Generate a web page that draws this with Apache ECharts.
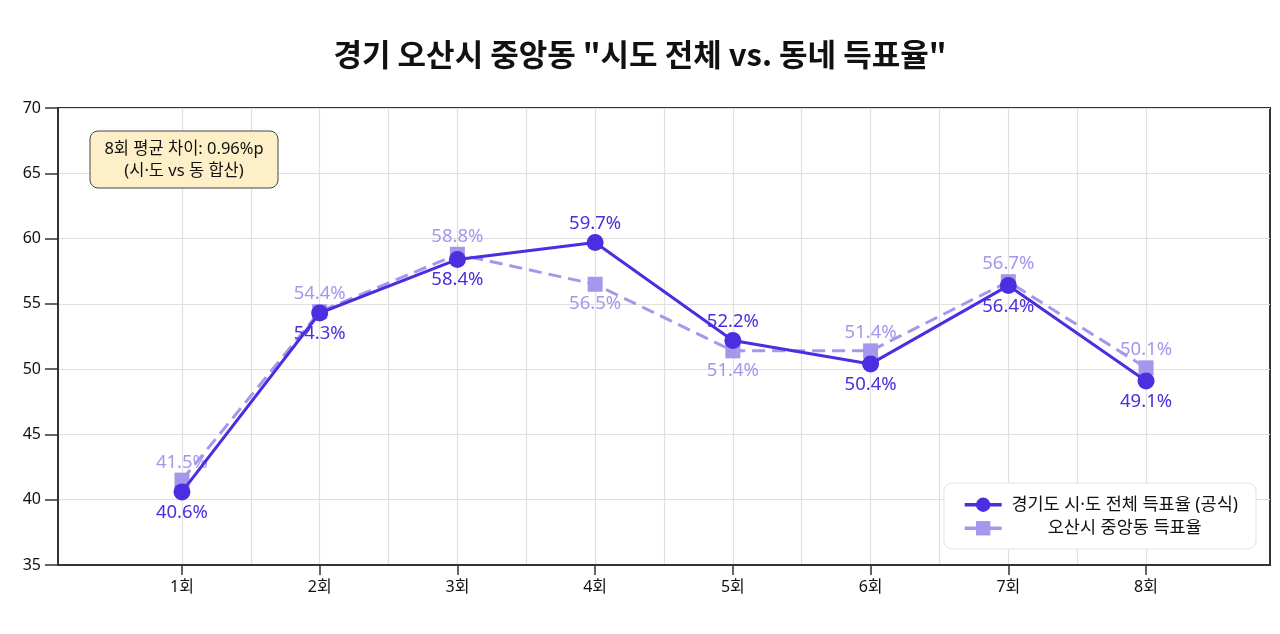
<!DOCTYPE html>
<html>
<head>
<meta charset="utf-8">
<script src="https://cdn.jsdelivr.net/npm/echarts@6/dist/echarts.min.js"></script>
<style>
html,body{margin:0;padding:0;background:#fff;}
#main{width:1280px;height:634px;}
</style>
</head>
<body>
<div id="main"></div>
<script>
// 회차, 두 계열 득표율
var rounds = [1, 2, 3, 4, 5, 6, 7, 8];
var roundLabels = ['1회', '2회', '3회', '4회', '5회', '6회', '7회', '8회'];
var provinceRate = [40.6, 54.3, 58.4, 59.7, 52.2, 50.4, 56.4, 49.1];
var dongRate = [41.5, 54.4, 58.8, 56.5, 51.4, 51.4, 56.7, 50.1];
var gridLines = [1, 1.5, 2, 2.5, 3, 3.5, 4, 4.5, 5, 5.5, 6, 6.5, 7, 7.5, 8];

var nameProvince = '경기도 시·도 전체 득표율 (공식)';
var nameDong = '오산시 중앙동 득표율';
var colProvince = '#4a2ee0';
var colDong = '#a597ec';
var FONT = '"Noto Sans", "Noto Sans CJK KR", sans-serif';
var TFONT = '"Noto Sans CJK KR", "Noto Sans", sans-serif';

// 값이 큰 쪽 라벨은 위, 작은 쪽은 아래
function makeData(vals, other){
    var out = [];
    for(var i = 0; i < vals.length; i++){
        var up = vals[i] > other[i];
        out.push({
            value: [rounds[i], vals[i]],
            label: {position: up ? 'top' : 'bottom', distance: up ? 1 : 3}
        });
    }
    return out;
}

var vLines = [];
for(var i = 0; i < gridLines.length; i++){
    vLines.push({xAxis: gridLines[i]});
}

var chart = echarts.init(document.getElementById('main'));
var option = {
    animation: false,
    backgroundColor: '#fff',
    title: {
        text: '경기 오산시 중앙동 "시도 전체 vs. 동네 득표율"',
        left: 'center',
        top: 34,
        textStyle: {fontFamily: TFONT, fontSize: 31, fontWeight: 'bold', color: '#111'}
    },
    grid: {
        left: 58, right: 10, top: 108, bottom: 69,
        show: true, borderColor: '#333', borderWidth: 2, backgroundColor: 'transparent'
    },
    legend: {
        orient: 'vertical',
        right: 24,
        bottom: 85,
        z: 20,
        backgroundColor: '#fff',
        borderColor: '#e2e2e2',
        borderWidth: 1,
        borderRadius: 8,
        padding: [13, 18, 12, 19],
        itemWidth: 37,
        itemHeight: 18,
        itemGap: 6,
        lineStyle: {width: 3.5, type: 'solid'},
        data: [nameProvince, nameDong],
        formatter: function(name){ return '{t|' + name + '}'; },
        textStyle: {
            fontFamily: FONT, fontSize: 17.5, color: '#111',
            rich: {t: {fontFamily: FONT, fontSize: 17.5, lineHeight: 18, color: '#111', width: 226, align: 'center', padding: [0, 0, 0, 5]}}
        }
    },
    xAxis: {
        type: 'value',
        min: 0.1, max: 8.9,
        axisLine: {show: true, lineStyle: {color: '#333', width: 2}},
        axisTick: {show: true, length: 10, lineStyle: {color: '#333', width: 1.5}, customValues: rounds},
        axisLabel: {
            customValues: rounds,
            fontFamily: FONT, fontSize: 16, color: '#111', margin: 14,
            formatter: function(v){ return roundLabels[rounds.indexOf(v)] || ''; }
        },
        splitLine: {show: false}
    },
    yAxis: {
        type: 'value',
        min: 35, max: 70, interval: 5,
        axisLine: {show: true, lineStyle: {color: '#333', width: 2}},
        axisTick: {show: true, length: 13, lineStyle: {color: '#333', width: 1.5}},
        axisLabel: {fontFamily: FONT, fontSize: 16, color: '#111', margin: 17},
        splitLine: {show: true, lineStyle: {color: '#e0e0e0', width: 1.2}}
    },
    graphic: [
        {
            type: 'rect',
            shape: {x: 90, y: 131, width: 188, height: 57, r: 8},
            style: {fill: '#fdf0c9', stroke: '#444', lineWidth: 1},
            z: 10
        },
        {
            type: 'text',
            x: 184, y: 160,
            style: {
                text: '8회 평균 차이: 0.96%p\n(시·도 vs 동 합산)',
                fontFamily: FONT, fontSize: 16.5, lineHeight: 22,
                fill: '#111', align: 'center', verticalAlign: 'middle'
            },
            z: 11
        }
    ],
    series: [
        {
            name: 'grid',
            type: 'line',
            data: [],
            silent: true,
            z: 0,
            markLine: {
                silent: true,
                z: 0,
                symbol: ['none', 'none'],
                label: {show: false},
                lineStyle: {color: '#e0e0e0', width: 1.2, type: 'solid'},
                data: vLines
            }
        },
        {
            name: nameDong,
            type: 'line',
            data: makeData(dongRate, provinceRate),
            symbol: 'rect',
            symbolSize: 15,
            itemStyle: {color: colDong},
            lineStyle: {color: colDong, width: 3, type: [13, 7]},
            label: {show: true, formatter: function(p){ return p.value[1].toFixed(1) + '%'; },
                fontFamily: FONT, fontSize: 18.5, color: colDong},
            z: 2
        },
        {
            name: nameProvince,
            type: 'line',
            data: makeData(provinceRate, dongRate),
            symbol: 'circle',
            symbolSize: 17,
            itemStyle: {color: colProvince},
            lineStyle: {color: colProvince, width: 3},
            label: {show: true, formatter: function(p){ return p.value[1].toFixed(1) + '%'; },
                fontFamily: FONT, fontSize: 18.5, color: colProvince},
            z: 3
        }
    ]
};
chart.setOption(option);
</script>
</body>
</html>
